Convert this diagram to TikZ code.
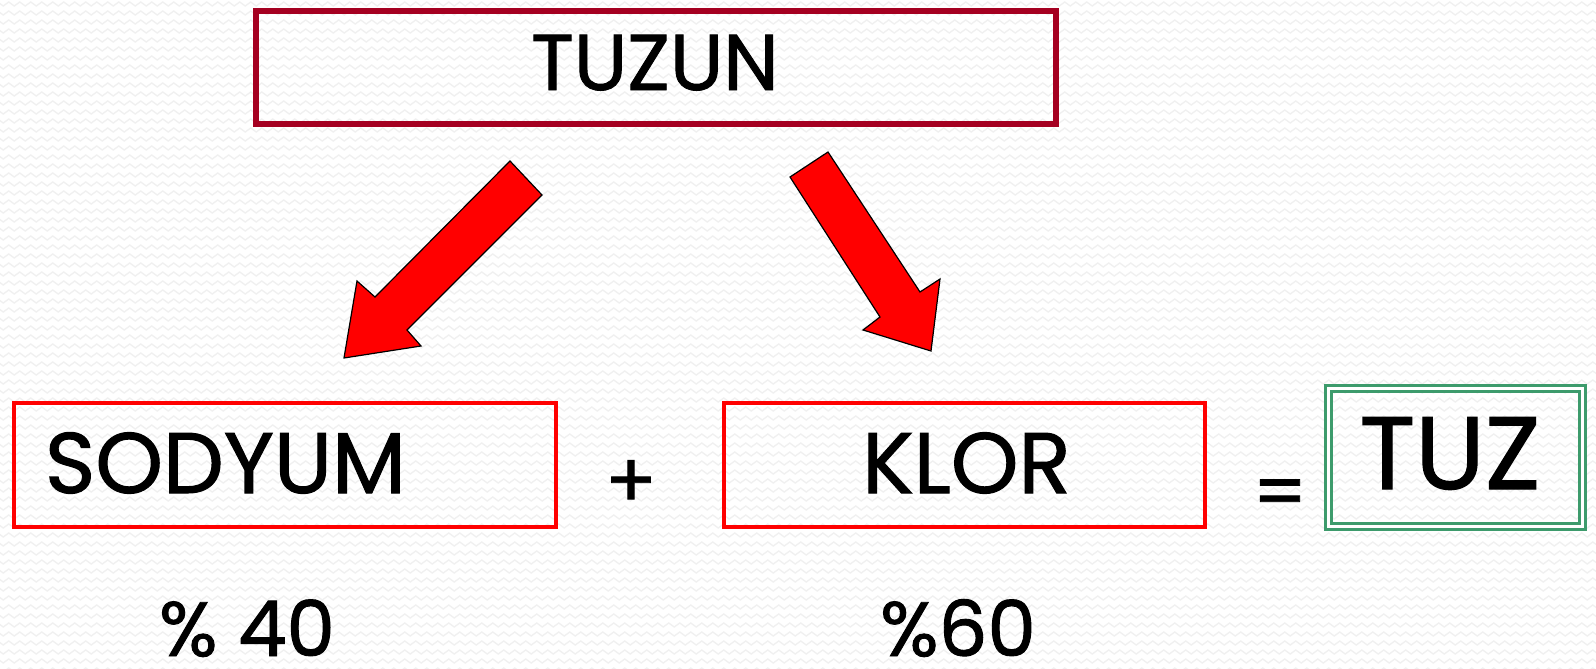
\documentclass[tikz,border=0pt]{standalone}
\usepackage{fontspec}
\setmainfont{Poppins}[FakeBold=1.2]
\usetikzlibrary{decorations.pathmorphing}
\definecolor{bgwave}{RGB}{240,240,240}
\definecolor{darkred}{RGB}{165,0,33}
\definecolor{boxgreen}{RGB}{61,155,108}
\tikzset{
  lbl/.style={inner sep=0pt, anchor=base, text=black},
  redbox/.style={draw=red, line width=4pt, inner sep=0pt},
  blockarrow/.style={fill=red, draw=black, line width=1.2pt, line join=miter},
}
\begin{document}
\begin{tikzpicture}[x=1pt,y=-1pt]
\useasboundingbox (0,0) rectangle (1596,669);
\fill[white] (0,0) rectangle (1596,669);
\foreach \r in {0,...,74}{
  \draw[bgwave, line width=1.3pt, decorate, decoration={zigzag, segment length=11pt, amplitude=2pt}]
    (-5,{4+\r*9}) -- (1601,{4+\r*9});
}
% top box
\node[draw=darkred, line width=6pt, minimum width=800pt, minimum height=113pt, inner sep=0pt] (topbox) at (656,67.5) {};
\node[lbl, font=\fontsize{79}{79}\selectfont] (tuzun) at (655,90) {TUZUN};
% bottom boxes
\node[redbox, minimum width=542pt, minimum height=124pt] (sodbox) at (285,465) {};
\node[redbox, minimum width=481pt, minimum height=124pt] (klorbox) at (964.5,465) {};
\node[draw=boxgreen, line width=3pt, double=white, double distance=3pt, minimum width=254pt, minimum height=138pt, inner sep=0pt] (tuzbox) at (1455.5,457.5) {};
\node[lbl, font=\fontsize{86}{86}\selectfont] (sodyum) at (225.5,493) {SODYUM};
\node[lbl, font=\fontsize{86}{86}\selectfont] (klor) at (966.5,493) {KLOR};
\node[lbl, font=\fontsize{103}{103}\selectfont] (tuz) at (1450,489) {TUZ};
\node[inner sep=0pt, font=\fontsize{76}{76}\selectfont] (plus) at (631,484) {+};
\node[inner sep=0pt, font=\fontsize{76}{76}\selectfont] (eq) at (1280,499) {=};
\node[lbl, font=\fontsize{77}{77}\selectfont] (p40) at (247,656) {\% 40};
\node[lbl, font=\fontsize{77}{77}\selectfont] (p60) at (958,656) {\%60};
% block arrows
\draw[blockarrow] (510,161) -- (542,195) -- (407,330) -- (421,346) -- (344,358) -- (357,281) -- (375,297) -- cycle;
\draw[blockarrow] (828,152) -- (920,292) -- (940,279) -- (931,351) -- (863,330) -- (880,317) -- (790,177) -- cycle;
\end{tikzpicture}
\end{document}
